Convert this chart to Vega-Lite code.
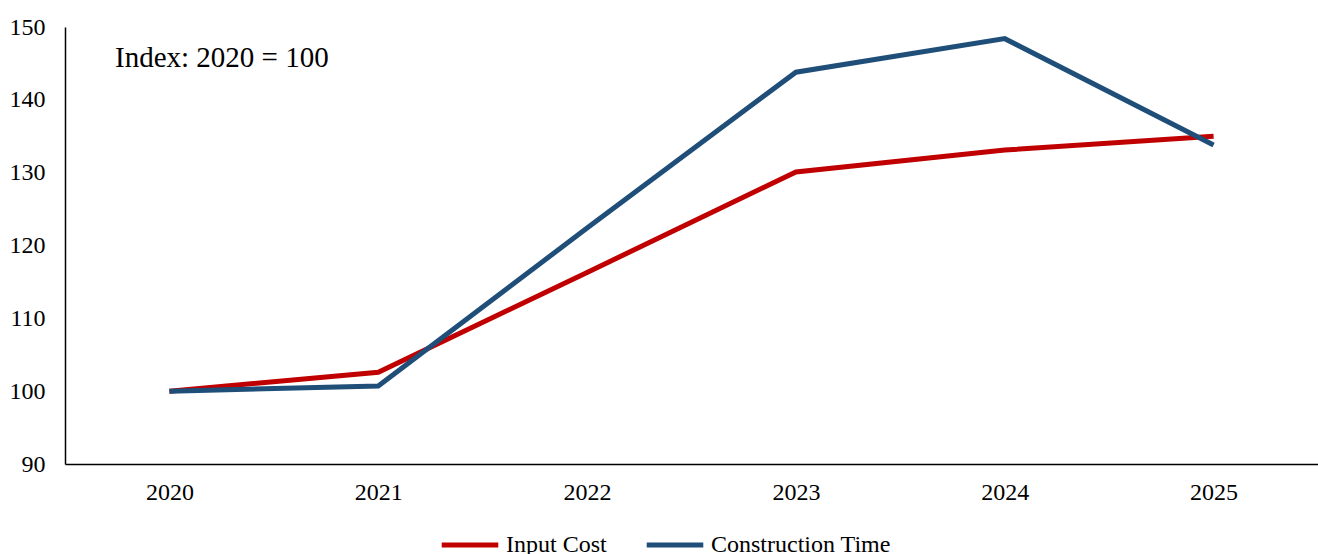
{
  "$schema": "https://vega.github.io/schema/vega-lite/v6.json",
  "width": 1253,
  "height": 437,
  "autosize": "none",
  "padding": {"left": 65, "top": 27, "right": 0, "bottom": 90},
  "background": "white",
  "config": {
    "view": {"stroke": null},
    "font": "Liberation Serif"
  },
  "title": {
    "text": "Index: 2020 = 100",
    "anchor": "start",
    "frame": "group",
    "dx": 50,
    "offset": -81,
    "baseline": "alphabetic",
    "fontSize": 29,
    "font": "Liberation Serif",
    "fontWeight": "normal",
    "color": "black"
  },
  "data": {
    "values": [
      {"year": "2020", "series": "Input Cost", "value": 100},
      {"year": "2021", "series": "Input Cost", "value": 102.6},
      {"year": "2022", "series": "Input Cost", "value": 116.3},
      {"year": "2023", "series": "Input Cost", "value": 130.1},
      {"year": "2024", "series": "Input Cost", "value": 133.1},
      {"year": "2025", "series": "Input Cost", "value": 135.0},
      {"year": "2020", "series": "Construction Time", "value": 100},
      {"year": "2021", "series": "Construction Time", "value": 100.7},
      {"year": "2022", "series": "Construction Time", "value": 122.4},
      {"year": "2023", "series": "Construction Time", "value": 143.8},
      {"year": "2024", "series": "Construction Time", "value": 148.4},
      {"year": "2025", "series": "Construction Time", "value": 133.8}
    ]
  },
  "mark": {"type": "line", "strokeWidth": 5, "strokeJoin": "miter"},
  "encoding": {
    "x": {
      "field": "year",
      "type": "ordinal",
      "scale": {"type": "point", "padding": 0.5},
      "axis": {
        "title": null,
        "labelAngle": 0,
        "labelFontSize": 24,
        "labelColor": "black",
        "labelFont": "Liberation Serif",
        "ticks": false,
        "labelPadding": 16,
        "domainColor": "black",
        "domainWidth": 1.5,
        "grid": false
      }
    },
    "y": {
      "field": "value",
      "type": "quantitative",
      "scale": {"domain": [90, 150], "nice": false, "zero": false},
      "axis": {
        "title": null,
        "values": [90, 100, 110, 120, 130, 140, 150],
        "labelFontSize": 24,
        "labelColor": "black",
        "labelFont": "Liberation Serif",
        "ticks": false,
        "labelPadding": 20,
        "domainColor": "black",
        "domainWidth": 1.5,
        "grid": false
      }
    },
    "color": {
      "field": "series",
      "type": "nominal",
      "scale": {"domain": ["Input Cost", "Construction Time"], "range": ["#C00000", "#1F4E79"]},
      "legend": {
        "title": null,
        "orient": "none",
        "legendX": 374,
        "legendY": 487,
        "direction": "horizontal",
        "symbolType": "stroke",
        "symbolSize": 3200,
        "symbolStrokeWidth": 5,
        "labelFontSize": 24,
        "labelColor": "black",
        "labelFont": "Liberation Serif",
        "labelOffset": 5,
        "labelLimit": 400,
        "columnPadding": 29
      }
    }
  }
}
